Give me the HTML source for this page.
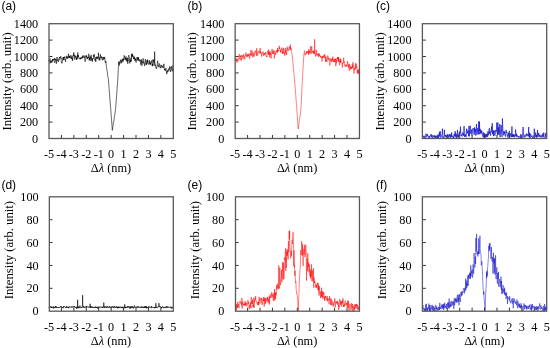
<!DOCTYPE html>
<html><head><meta charset="utf-8"><style>
html,body{margin:0;padding:0;background:#fff;}
svg{display:block;filter:blur(0.3px);}
.t{font-family:"Liberation Serif",serif;font-size:12.2px;fill:#000;}
.tt{font-family:"Liberation Serif",serif;font-size:12.7px;fill:#000;}
.tx{font-family:"Liberation Serif",serif;font-size:12.35px;fill:#000;}
.s{font-family:"Liberation Sans",sans-serif;font-size:12px;fill:#000;}
</style></head><body>
<svg width="550" height="348" viewBox="0 0 550 348">
<rect width="550" height="348" fill="#fff"/>
<polyline points="49,59.78 49.18,61.21 49.36,60.48 49.53,60.86 49.71,60.12 49.89,58.26 50.07,63.29 50.24,62.18 50.42,60.79 50.6,61.01 50.78,62.87 50.96,62.18 51.13,61.03 51.31,60.49 51.49,61.69 51.67,62.33 51.85,61.54 52.02,62.21 52.2,61.17 52.38,59.77 52.56,59.26 52.73,61.33 52.91,59.56 53.09,60.35 53.27,60.54 53.45,58.91 53.62,59.29 53.8,59.65 53.98,59.88 54.16,60.01 54.33,59.67 54.51,57.99 54.69,60.11 54.87,62.8 55.05,61.02 55.22,60.96 55.4,60.38 55.58,58.72 55.76,58.8 55.94,59.78 56.11,59.29 56.29,63.46 56.47,63.7 56.65,60.14 56.82,59.26 57,57.08 57.18,58.23 57.36,59.3 57.54,60.56 57.71,59.96 57.89,60.54 58.07,59.76 58.25,61.92 58.42,61.91 58.6,61.2 58.78,60.47 58.96,58.68 59.14,59.6 59.31,59.51 59.49,56.94 59.67,57.78 59.85,57.22 60.03,57.84 60.2,57.56 60.38,57.06 60.56,57.17 60.74,56.31 60.91,58.65 61.09,57.9 61.27,61.45 61.45,61.54 61.63,63.2 61.8,62.62 61.98,62.95 62.16,63.1 62.34,61.29 62.51,61.28 62.69,59.56 62.87,58.69 63.05,57.2 63.23,59.99 63.4,59.26 63.58,57.12 63.76,59.85 63.94,60.17 64.12,59.08 64.29,57.09 64.47,57.53 64.65,56.97 64.83,56.45 65,58.9 65.18,59.5 65.36,59.21 65.54,61.85 65.72,59.79 65.89,58.99 66.07,58.36 66.25,58.4 66.43,57.11 66.6,57.65 66.78,55.81 66.96,57.54 67.14,56.78 67.32,58.6 67.49,58.61 67.67,57.71 67.85,58.4 68.03,57.36 68.21,56.25 68.38,56.67 68.56,53.83 68.74,56.61 68.92,57.87 69.09,56.54 69.27,56.32 69.45,58.04 69.63,56.04 69.81,57.86 69.98,57.7 70.16,57.75 70.34,57.45 70.52,56.37 70.69,55.28 70.87,55.01 71.05,58.49 71.23,57.22 71.41,58.69 71.58,58.16 71.76,58.61 71.94,55.93 72.12,56.43 72.3,59.74 72.47,58.54 72.65,60.83 72.83,58.24 73.01,56.96 73.18,55.75 73.36,54.5 73.54,55.92 73.72,52.38 73.9,55 74.07,56.02 74.25,54.88 74.43,56.41 74.61,57.46 74.78,59.41 74.96,55.82 75.14,57.46 75.32,57.54 75.5,56.55 75.67,55.74 75.85,56.27 76.03,56.41 76.21,56.68 76.39,60.01 76.56,58.48 76.74,59.72 76.92,57.72 77.1,56.28 77.27,58.73 77.45,55.05 77.63,55.95 77.81,52.48 77.99,56.92 78.16,55.34 78.34,56.45 78.52,55.64 78.7,57.96 78.87,58.5 79.05,58.68 79.23,58.57 79.41,58.18 79.59,57.81 79.76,57.83 79.94,58.71 80.12,59.29 80.3,58.03 80.48,59.12 80.65,57.98 80.83,57.51 81.01,58.47 81.19,57.71 81.36,58.27 81.54,58.56 81.72,57.67 81.9,58 82.08,57.08 82.25,56.49 82.43,56.07 82.61,58.36 82.79,56.57 82.96,55.5 83.14,55.31 83.32,56.77 83.5,56.75 83.68,57.12 83.85,58 84.03,57.53 84.21,57.45 84.39,56.04 84.57,55.82 84.74,55.62 84.92,58.99 85.1,61.67 85.28,58.55 85.45,57.95 85.63,57.74 85.81,55.81 85.99,56.09 86.17,56.61 86.34,57.08 86.52,55.26 86.7,57.56 86.88,56.62 87.05,58.04 87.23,59.22 87.41,57.54 87.59,57.67 87.77,58.61 87.94,57.18 88.12,57.14 88.3,57.02 88.48,57.6 88.66,54.81 88.83,53.77 89.01,55.27 89.19,60.35 89.37,60.15 89.54,57.99 89.72,59.16 89.9,56.84 90.08,57.67 90.26,60.91 90.43,56.79 90.61,56.59 90.79,57.39 90.97,56.38 91.14,54.97 91.32,58.46 91.5,57.61 91.68,59.71 91.86,59.37 92.03,60.84 92.21,58.55 92.39,61.68 92.57,60.58 92.75,58.4 92.92,58.25 93.1,58.92 93.28,58.38 93.46,56.59 93.63,55.03 93.81,56.59 93.99,57.23 94.17,54.17 94.35,55.12 94.52,56.45 94.7,56.84 94.88,57.03 95.06,60.71 95.23,58.53 95.41,59.79 95.59,59.54 95.77,61.89 95.95,60.71 96.12,56.9 96.3,58.64 96.48,57.34 96.66,57.56 96.84,57.64 97.01,56.68 97.19,56.49 97.37,59.03 97.55,57.79 97.72,57.37 97.9,57.76 98.08,57.42 98.26,58.39 98.44,52.67 98.61,55.67 98.79,57.09 98.97,58.77 99.15,60.44 99.32,59.61 99.5,57.68 99.68,58.54 99.86,60.2 100.04,58.72 100.21,56.51 100.39,54.21 100.57,55.76 100.75,57.94 100.93,57.69 101.1,57.23 101.28,56.66 101.46,56.68 101.64,58.36 101.81,56.76 101.99,57.45 102.17,59.05 102.35,59.8 102.53,60.23 102.7,58.38 102.88,58.51 103.06,58.33 103.24,56.93 103.41,57.38 103.59,57.04 103.77,59.88 103.95,58.67 104.13,57.31 104.3,58.51 104.48,57.19 104.66,56.92 104.84,59.12 105.02,60.65 105.19,61.95 105.37,62.92 105.55,62.7 105.73,61.37 105.9,60.87 106.08,64.18 106.26,65.06 106.44,66.45 106.62,67.25 106.79,69.1 106.97,70.04 107.15,71.69 107.33,72.09 107.5,73.99 107.68,75.57 107.86,76.27 108.04,77.49 108.22,78.2 108.39,79.97 108.57,82.02 108.75,84.12 108.93,86.13 109.11,88.79 109.28,90.77 109.46,93.15 109.64,95.61 109.82,97.77 109.99,100.03 110.17,102.52 110.35,104.25 110.53,107.14 110.71,108.77 110.88,111.14 111.06,113.75 111.24,116.27 111.42,118.49 111.59,120.68 111.77,122.97 111.95,125.43 112.13,127.62 112.31,130.35 112.48,129.03 112.66,128.35 112.84,126.65 113.02,125.67 113.19,124.68 113.37,123.17 113.55,122.16 113.73,121.89 113.91,120.06 114.08,119.3 114.26,117.55 114.44,116.08 114.62,115.69 114.8,114.42 114.97,113.37 115.15,112.09 115.33,110.89 115.51,109.56 115.68,107.74 115.86,104.74 116.04,102.97 116.22,100.3 116.4,97.7 116.57,95.43 116.75,93.46 116.93,91.02 117.11,88.59 117.28,86.11 117.46,83.43 117.64,81.65 117.82,78.44 118,75.15 118.17,71.91 118.35,68.68 118.53,65.16 118.71,62.16 118.89,63.68 119.06,61.53 119.24,65.13 119.42,65.46 119.6,64.58 119.77,62.79 119.95,62.04 120.13,61.07 120.31,61.28 120.49,59.81 120.66,60.2 120.84,59.85 121.02,63.35 121.2,60.99 121.37,60.95 121.55,60.84 121.73,60.77 121.91,62.6 122.09,59.75 122.26,59.23 122.44,60.6 122.62,59.66 122.8,58.66 122.98,61.41 123.15,61.09 123.33,61.34 123.51,60.4 123.69,58.5 123.86,59.96 124.04,57.87 124.22,55.38 124.4,57 124.58,56.86 124.75,57.88 124.93,58.15 125.11,59.41 125.29,59.58 125.46,57.95 125.64,59.24 125.82,57.62 126,56.42 126.18,60.67 126.35,60.87 126.53,58.41 126.71,59.06 126.89,59.87 127.07,61.73 127.24,60.37 127.42,57.73 127.6,59.04 127.78,63.79 127.95,59.71 128.13,60.68 128.31,59.88 128.49,58.87 128.67,57.44 128.84,55.08 129.02,56.5 129.2,56.85 129.38,57.63 129.55,60.24 129.73,63.3 129.91,60.91 130.09,60.59 130.27,59.95 130.44,62.01 130.62,59.67 130.8,58.47 130.98,57.69 131.16,58.32 131.33,61.53 131.51,53.9 131.69,56.93 131.87,56.13 132.04,55.82 132.22,53.62 132.4,56.33 132.58,54.82 132.76,56.81 132.93,57.03 133.11,57.56 133.29,57.86 133.47,58.38 133.64,59.03 133.82,55.8 134,59.01 134.18,57.82 134.36,59.07 134.53,58.01 134.71,57.45 134.89,61.01 135.07,60.53 135.25,58.91 135.42,60.22 135.6,58.64 135.78,60.5 135.96,62.12 136.13,62.49 136.31,61.12 136.49,60.06 136.67,60.06 136.85,59.31 137.02,57.15 137.2,58.75 137.38,60.39 137.56,59.37 137.73,59.55 137.91,57.27 138.09,59.21 138.27,57.04 138.45,59.46 138.62,60.78 138.8,59.03 138.98,59.32 139.16,59.74 139.34,59.5 139.51,59.68 139.69,59.73 139.87,61.51 140.05,60.46 140.22,59.78 140.4,60.84 140.58,63.23 140.76,64.63 140.94,63.62 141.11,62.8 141.29,63.06 141.47,59.51 141.65,62.13 141.82,65.82 142,64.57 142.18,64.47 142.36,61.49 142.54,61.88 142.71,62.03 142.89,62.6 143.07,58.34 143.25,59.27 143.43,61.57 143.6,63.33 143.78,62.5 143.96,62.4 144.14,62.77 144.31,63.77 144.49,66.1 144.67,65.71 144.85,64.27 145.03,61.95 145.2,59.75 145.38,59.2 145.56,60.44 145.74,63.1 145.91,64.5 146.09,64.8 146.27,64.75 146.45,63.17 146.63,64.69 146.8,62.05 146.98,60.39 147.16,63.35 147.34,59.53 147.52,61.73 147.69,61.98 147.87,60.44 148.05,63.51 148.23,64.04 148.4,64.05 148.58,63.73 148.76,64.48 148.94,64.38 149.12,63.76 149.29,61.77 149.47,60.33 149.65,63.61 149.83,64.06 150,62.41 150.18,63.65 150.36,64.85 150.54,62.99 150.72,64.23 150.89,61.8 151.07,62.18 151.25,61.36 151.43,60.54 151.61,61.67 151.78,62.85 151.96,62.4 152.14,66.14 152.32,66.08 152.49,63.86 152.67,65.89 152.85,63.39 153.03,59.4 153.21,62.02 153.38,59.82 153.56,60.57 153.74,59.94 153.92,65.26 154.09,65.28 154.27,65.5 154.45,63.87 154.63,51.58 154.81,61.64 154.98,63.61 155.16,63.92 155.34,66.11 155.52,64.99 155.7,65.85 155.87,67.54 156.05,67.07 156.23,67.9 156.41,69.07 156.58,68.43 156.76,68.17 156.94,66.47 157.12,66.35 157.3,63.79 157.47,62.1 157.65,60.81 157.83,62.17 158.01,64.47 158.18,66.07 158.36,66.54 158.54,65.45 158.72,65.88 158.9,67.28 159.07,66.56 159.25,63.86 159.43,63.52 159.61,64.62 159.79,64.43 159.96,64.89 160.14,65.89 160.32,68.29 160.5,67.52 160.67,67.71 160.85,67.36 161.03,65.11 161.21,65.27 161.39,65.2 161.56,66 161.74,65.77 161.92,67.59 162.1,66.51 162.27,65.68 162.45,66.61 162.63,66.87 162.81,66.58 162.99,67.23 163.16,68.03 163.34,67.4 163.52,67.28 163.7,67.45 163.88,63.82 164.05,66.75 164.23,67.64 164.41,69.86 164.59,69.2 164.76,70.17 164.94,69.2 165.12,69.37 165.3,70.71 165.48,69.19 165.65,68.78 165.83,68.41 166.01,68.06 166.19,69.55 166.36,71.36 166.54,72.12 166.72,74.11 166.9,73.36 167.08,70.77 167.25,71.17 167.43,72.19 167.61,70.8 167.79,71.17 167.97,70.24 168.14,69.68 168.32,69.43 168.5,69.97 168.68,70.75 168.85,71.39 169.03,68.72 169.21,67.87 169.39,69.55 169.57,68.7 169.74,68.07 169.92,66.37 170.1,67.55 170.28,67.29 170.45,69.67 170.63,71.81 170.81,70.79 170.99,70.79 171.17,70.67 171.34,70.02 171.52,68.29 171.7,66.2 171.88,68.46 172.06,68.63 172.23,69.18 172.41,70.16 172.59,71.32 172.77,70.95 172.94,64.9 173.12,65.04 173.3,65.13" fill="none" stroke="#000000" stroke-width="0.6" stroke-linejoin="round"/>
<path d="M49 122.1h3.5M49 105.7h3.5M49 89.3h3.5M49 72.9h3.5M49 56.5h3.5M49 40.1h3.5M61.43 138.5v-3.5M73.86 138.5v-3.5M86.29 138.5v-3.5M98.72 138.5v-3.5M111.15 138.5v-3.5M123.58 138.5v-3.5M136.01 138.5v-3.5M148.44 138.5v-3.5M160.87 138.5v-3.5" stroke="#333" stroke-width="1" fill="none"/>
<rect x="49" y="23.7" width="124.3" height="114.8" fill="none" stroke="#595959" stroke-width="1.3"/>
<text x="38.2" y="142.6" class="t" text-anchor="end">0</text>
<text x="38.2" y="126.2" class="t" text-anchor="end">200</text>
<text x="38.2" y="109.8" class="t" text-anchor="end">400</text>
<text x="38.2" y="93.4" class="t" text-anchor="end">600</text>
<text x="38.2" y="77" class="t" text-anchor="end">800</text>
<text x="38.2" y="60.6" class="t" text-anchor="end">1000</text>
<text x="38.2" y="44.2" class="t" text-anchor="end">1200</text>
<text x="38.2" y="27.8" class="t" text-anchor="end">1400</text>
<text x="49" y="157.9" class="t" text-anchor="middle">-5</text>
<text x="61.43" y="157.9" class="t" text-anchor="middle">-4</text>
<text x="73.86" y="157.9" class="t" text-anchor="middle">-3</text>
<text x="86.29" y="157.9" class="t" text-anchor="middle">-2</text>
<text x="98.72" y="157.9" class="t" text-anchor="middle">-1</text>
<text x="111.15" y="157.9" class="t" text-anchor="middle">0</text>
<text x="123.58" y="157.9" class="t" text-anchor="middle">1</text>
<text x="136.01" y="157.9" class="t" text-anchor="middle">2</text>
<text x="148.44" y="157.9" class="t" text-anchor="middle">3</text>
<text x="160.87" y="157.9" class="t" text-anchor="middle">4</text>
<text x="173.3" y="157.9" class="t" text-anchor="middle">5</text>
<text x="110.95" y="171.8" class="tx" text-anchor="middle">&#916;<tspan font-style="italic">&#955;</tspan> (nm)</text>
<text transform="translate(11.4 81.4) rotate(-90)" class="tt" text-anchor="middle">Intensity (arb. unit)</text>
<text x="1.4" y="9.6" class="s">(a)</text>
<polyline points="235.15,57.46 235.33,59.94 235.51,59.8 235.68,59.83 235.86,60.55 236.04,59.9 236.22,61.17 236.39,60.16 236.57,60.44 236.75,58.19 236.93,62.57 237.11,61.42 237.28,59.59 237.46,59.45 237.64,61.09 237.82,61.31 238,60.68 238.17,61.06 238.35,59.99 238.53,58.3 238.71,57.78 238.88,57.17 239.06,56.14 239.24,54.06 239.42,57.29 239.6,58.64 239.77,58.24 239.95,58.43 240.13,60.04 240.31,55.76 240.48,56.96 240.66,55.6 240.84,55.59 241.02,57.47 241.2,58.4 241.37,60.67 241.55,57.54 241.73,55.05 241.91,55.32 242.09,55.92 242.26,55.72 242.44,56.26 242.62,56.83 242.8,55.83 242.97,59.22 243.15,57.61 243.33,55.96 243.51,54.75 243.69,53.95 243.86,55.65 244.04,57.11 244.22,56.63 244.4,57.12 244.57,59.32 244.75,57.22 244.93,56.87 245.11,57.4 245.29,55.05 245.46,55.66 245.64,55.24 245.82,52.67 246,52.53 246.18,54.37 246.35,54.04 246.53,56.52 246.71,56.52 246.89,56.82 247.06,55.18 247.24,56.43 247.42,56.49 247.6,54.53 247.78,54.48 247.95,56.6 248.13,54.03 248.31,56.12 248.49,55.27 248.66,55.41 248.84,55.45 249.02,53.6 249.2,55.12 249.38,56.04 249.55,58.8 249.73,58.51 249.91,56.65 250.09,54.75 250.27,53.51 250.44,55.3 250.62,55.12 250.8,50.24 250.98,49.86 251.15,52.49 251.33,54.34 251.51,53.92 251.69,55.94 251.87,52.26 252.04,51.48 252.22,50.65 252.4,51.68 252.58,55.58 252.75,57.4 252.93,57.33 253.11,55.12 253.29,55.44 253.47,53.76 253.64,54.63 253.82,54.08 254,52.62 254.18,56.65 254.36,54.71 254.53,53.88 254.71,52.08 254.89,51.97 255.07,52.14 255.24,51.29 255.42,50.72 255.6,51.75 255.78,52.64 255.96,51.17 256.13,52.25 256.31,55.78 256.49,55.9 256.67,48.23 256.84,50.82 257.02,51.86 257.2,52.88 257.38,54.2 257.56,54.13 257.73,55.72 257.91,53.95 258.09,52.5 258.27,51.89 258.45,51.38 258.62,51.56 258.8,52.12 258.98,50.77 259.16,51.96 259.33,53.38 259.51,52.98 259.69,52.76 259.87,51.95 260.05,48.56 260.22,47.95 260.4,53.31 260.58,51.7 260.76,51.84 260.93,52.24 261.11,53.84 261.29,53.93 261.47,56.69 261.65,56.56 261.82,52.8 262,52.39 262.18,53.71 262.36,52.4 262.54,52.37 262.71,52.34 262.89,52.24 263.07,51.47 263.25,51.62 263.42,55.78 263.6,54.08 263.78,54.71 263.96,55.16 264.14,53.39 264.31,53.16 264.49,54.79 264.67,53.53 264.85,54.35 265.02,53.44 265.2,53.11 265.38,53.18 265.56,53.83 265.74,52.17 265.91,55.74 266.09,55.46 266.27,55.75 266.45,56.8 266.63,56.81 266.8,56.03 266.98,56.94 267.16,54.45 267.34,52.47 267.51,51.34 267.69,51.41 267.87,51.63 268.05,50.67 268.23,53.39 268.4,54.58 268.58,49.6 268.76,54.91 268.94,52.67 269.11,54.42 269.29,52.12 269.47,51.95 269.65,57.35 269.83,56.34 270,52.31 270.18,51.19 270.36,54.18 270.54,54.66 270.72,53.31 270.89,57.61 271.07,57.39 271.25,58.34 271.43,55.64 271.6,54.99 271.78,50.46 271.96,50.51 272.14,48.91 272.32,51.35 272.49,52.44 272.67,54.02 272.85,50.99 273.03,51.55 273.2,51.88 273.38,53.16 273.56,53.84 273.74,51.28 273.92,50 274.09,50.53 274.27,58.43 274.45,55.86 274.63,55.21 274.81,53.93 274.98,51.46 275.16,53.26 275.34,53.64 275.52,55.03 275.69,53.72 275.87,53.63 276.05,52.88 276.23,51.71 276.41,50.5 276.58,51.97 276.76,52.33 276.94,51.4 277.12,51.2 277.29,49.85 277.47,52.85 277.65,47.94 277.83,51.67 278.01,51.34 278.18,51.09 278.36,50.34 278.54,51.14 278.72,50.65 278.9,48.77 279.07,45.86 279.25,45.85 279.43,48.73 279.61,48.23 279.78,47.53 279.96,49.1 280.14,49.33 280.32,51.93 280.5,52.52 280.67,50.47 280.85,51.96 281.03,51.05 281.21,49.42 281.38,49.82 281.56,48.64 281.74,48.13 281.92,47.67 282.1,51.22 282.27,53.56 282.45,51.31 282.63,53.97 282.81,52.23 282.99,49.12 283.16,49.97 283.34,47.78 283.52,48.93 283.7,53.12 283.87,51.48 284.05,52.6 284.23,54.14 284.41,53.01 284.59,55.67 284.76,55.72 284.94,54.15 285.12,47.91 285.3,49.04 285.47,51.17 285.65,53.1 285.83,50.96 286.01,49.35 286.19,54.05 286.36,54.56 286.54,53.29 286.72,54.67 286.9,52.34 287.08,46.69 287.25,48.53 287.43,48 287.61,50.17 287.79,50.25 287.96,50.26 288.14,50.84 288.32,49.74 288.5,49.48 288.68,49.25 288.85,50.34 289.03,47 289.21,47.37 289.39,47.47 289.56,46.51 289.74,48.47 289.92,49.23 290.1,48.05 290.28,44.49 290.45,44.48 290.63,50.16 290.81,47.56 290.99,47.68 291.17,48.49 291.34,49.98 291.52,51.22 291.7,52.13 291.88,53.1 292.05,54.44 292.23,55.88 292.41,57.33 292.59,59.76 292.77,61.44 292.94,62.96 293.12,65.28 293.3,67.17 293.48,69.07 293.65,70.54 293.83,72.34 294.01,74.34 294.19,76.13 294.37,77.66 294.54,79.6 294.72,82.36 294.9,84.27 295.08,86.5 295.26,88.6 295.43,91.09 295.61,93.45 295.79,95.65 295.97,98.23 296.14,100.05 296.32,102.45 296.5,104.44 296.68,107.06 296.86,109.17 297.03,111.87 297.21,114.67 297.39,117.02 297.57,120.09 297.74,122.64 297.92,125.81 298.1,128.29 298.28,129.06 298.46,127.49 298.63,126.24 298.81,124.71 298.99,123.54 299.17,122.37 299.34,120.85 299.52,119.75 299.7,118.4 299.88,117.08 300.06,116.02 300.23,114.81 300.41,113.4 300.59,112.32 300.77,110.85 300.95,108.89 301.12,105.38 301.3,102.12 301.48,98.77 301.66,94.9 301.83,91.35 302.01,87.48 302.19,84.27 302.37,80.66 302.55,77.29 302.72,74.53 302.9,71.39 303.08,67.87 303.26,64.87 303.43,62.02 303.61,59.05 303.79,56.29 303.97,53.91 304.15,53.29 304.32,51.73 304.5,50.71 304.68,51.84 304.86,53.79 305.04,54.74 305.21,55.37 305.39,54.13 305.57,53.89 305.75,53.37 305.92,53.13 306.1,54.25 306.28,53.21 306.46,52.74 306.64,51.28 306.81,53.66 306.99,53.67 307.17,51.78 307.35,51.46 307.52,51.3 307.7,51.58 307.88,52.91 308.06,50.97 308.24,52.83 308.41,52.3 308.59,55.1 308.77,49.22 308.95,52.35 309.13,52.11 309.3,52.6 309.48,50.79 309.66,52.03 309.84,51.6 310.01,52.64 310.19,53.85 310.37,46.41 310.55,46.39 310.73,48.71 310.9,52.19 311.08,53.58 311.26,53.03 311.44,53.2 311.61,46.68 311.79,46.25 311.97,49.09 312.15,51.34 312.33,50.94 312.5,51.57 312.68,52.81 312.86,51.62 313.04,51.26 313.22,51.62 313.39,50.89 313.57,53.84 313.75,50.74 313.93,51.96 314.1,53.38 314.28,54.04 314.46,52.36 314.64,39.28 314.82,54.01 314.99,53.54 315.17,53.63 315.35,54.54 315.53,56.6 315.7,55.96 315.88,52.21 316.06,49.64 316.24,51.7 316.42,51.5 316.59,51 316.77,55.12 316.95,53.53 317.13,55.28 317.31,55.7 317.48,54.2 317.66,54.39 317.84,55.01 318.02,54.6 318.19,55.27 318.37,56.91 318.55,55.43 318.73,53.25 318.91,54.47 319.08,53.65 319.26,56.07 319.44,54.56 319.62,54.43 319.79,55.79 319.97,55.65 320.15,57.2 320.33,56.48 320.51,56.23 320.68,56.88 320.86,55.79 321.04,57.64 321.22,57.58 321.4,57.92 321.57,56.94 321.75,57.9 321.93,61.49 322.11,59.47 322.28,57.72 322.46,56.19 322.64,57.69 322.82,57.63 323,56.13 323.17,57.48 323.35,56.3 323.53,56.15 323.71,55.37 323.88,57.21 324.06,56.75 324.24,58.14 324.42,54.87 324.6,55.48 324.77,54.13 324.95,57.28 325.13,56.98 325.31,56.52 325.49,58.12 325.66,62.02 325.84,57.26 326.02,56.63 326.2,59.64 326.37,61.17 326.55,59.48 326.73,60.3 326.91,61.79 327.09,61.65 327.26,59.72 327.44,57.89 327.62,58.04 327.8,55.55 327.97,55.99 328.15,58.93 328.33,57.82 328.51,59.89 328.69,60.2 328.86,59.77 329.04,59.27 329.22,58.26 329.4,58.94 329.58,61.18 329.75,65.41 329.93,63.91 330.11,62.67 330.29,60.76 330.46,59.63 330.64,58.43 330.82,59.87 331,61.34 331.18,59.92 331.35,59.59 331.53,60.23 331.71,58.87 331.89,60.34 332.06,62.24 332.24,60.61 332.42,58.32 332.6,60.37 332.78,57.8 332.95,56.65 333.13,58.28 333.31,60.92 333.49,60.94 333.67,61.7 333.84,60.07 334.02,62.1 334.2,60.22 334.38,59.9 334.55,60.18 334.73,58.65 334.91,62.13 335.09,59.01 335.27,59.61 335.44,58.78 335.62,62.91 335.8,66.18 335.98,63.68 336.15,59.85 336.33,59.69 336.51,63.14 336.69,60.9 336.87,59.89 337.04,58.15 337.22,59 337.4,57.28 337.58,58.71 337.76,57.69 337.93,60.51 338.11,60.08 338.29,56.95 338.47,58.06 338.64,61.93 338.82,57.41 339,61.49 339.18,59.82 339.36,61.91 339.53,64.99 339.71,65.33 339.89,64.44 340.07,61.52 340.24,62.07 340.42,58.73 340.6,63.08 340.78,59.32 340.96,61.42 341.13,61.75 341.31,61.98 341.49,62.14 341.67,61.66 341.85,62.06 342.02,62.66 342.2,67.51 342.38,67.12 342.56,63.17 342.73,63.66 342.91,63.69 343.09,62.35 343.27,62.39 343.45,61.91 343.62,57.78 343.8,58.65 343.98,62.96 344.16,61.36 344.33,64.21 344.51,63.98 344.69,65.17 344.87,66.45 345.05,66.38 345.22,65.75 345.4,65.22 345.58,66.55 345.76,65.16 345.94,65.49 346.11,64.39 346.29,64.87 346.47,65.77 346.65,65.61 346.82,65.31 347,66.74 347.18,65.58 347.36,61.11 347.54,62.92 347.71,62.46 347.89,63.47 348.07,65.18 348.25,64.56 348.42,67.67 348.6,64.8 348.78,65.06 348.96,66.43 349.14,69.37 349.31,70.75 349.49,65.78 349.67,63.75 349.85,65.35 350.03,65.68 350.2,65.36 350.38,69.43 350.56,69.07 350.74,66.41 350.91,67.29 351.09,68.74 351.27,67.82 351.45,68.81 351.63,66.89 351.8,66.75 351.98,68.49 352.16,66.21 352.34,64.42 352.51,67.8 352.69,67.98 352.87,62.16 353.05,65.79 353.23,66.05 353.4,65.22 353.58,68.59 353.76,68.95 353.94,73.53 354.12,70.84 354.29,68.23 354.47,69.33 354.65,69.02 354.83,69.99 355,66.63 355.18,67.3 355.36,68.89 355.54,66.57 355.72,62.88 355.89,66.22 356.07,64.08 356.25,68.4 356.43,67.48 356.6,66.3 356.78,66.47 356.96,66.03 357.14,73.46 357.32,71.91 357.49,70.19 357.67,69.68 357.85,72.84 358.03,71.21 358.21,70.28 358.38,74.04 358.56,74.02 358.74,71.72 358.92,69.01 359.09,72.6 359.27,71.67 359.45,72.43" fill="none" stroke="#ff0000" stroke-width="0.5" stroke-linejoin="round"/>
<path d="M235.15 122.1h3.5M235.15 105.7h3.5M235.15 89.3h3.5M235.15 72.9h3.5M235.15 56.5h3.5M235.15 40.1h3.5M247.58 138.5v-3.5M260.01 138.5v-3.5M272.44 138.5v-3.5M284.87 138.5v-3.5M297.3 138.5v-3.5M309.73 138.5v-3.5M322.16 138.5v-3.5M334.59 138.5v-3.5M347.02 138.5v-3.5" stroke="#333" stroke-width="1" fill="none"/>
<rect x="235.15" y="23.7" width="124.3" height="114.8" fill="none" stroke="#595959" stroke-width="1.3"/>
<text x="224.35" y="142.6" class="t" text-anchor="end">0</text>
<text x="224.35" y="126.2" class="t" text-anchor="end">200</text>
<text x="224.35" y="109.8" class="t" text-anchor="end">400</text>
<text x="224.35" y="93.4" class="t" text-anchor="end">600</text>
<text x="224.35" y="77" class="t" text-anchor="end">800</text>
<text x="224.35" y="60.6" class="t" text-anchor="end">1000</text>
<text x="224.35" y="44.2" class="t" text-anchor="end">1200</text>
<text x="224.35" y="27.8" class="t" text-anchor="end">1400</text>
<text x="235.15" y="157.9" class="t" text-anchor="middle">-5</text>
<text x="247.58" y="157.9" class="t" text-anchor="middle">-4</text>
<text x="260.01" y="157.9" class="t" text-anchor="middle">-3</text>
<text x="272.44" y="157.9" class="t" text-anchor="middle">-2</text>
<text x="284.87" y="157.9" class="t" text-anchor="middle">-1</text>
<text x="297.3" y="157.9" class="t" text-anchor="middle">0</text>
<text x="309.73" y="157.9" class="t" text-anchor="middle">1</text>
<text x="322.16" y="157.9" class="t" text-anchor="middle">2</text>
<text x="334.59" y="157.9" class="t" text-anchor="middle">3</text>
<text x="347.02" y="157.9" class="t" text-anchor="middle">4</text>
<text x="359.45" y="157.9" class="t" text-anchor="middle">5</text>
<text x="297.1" y="171.8" class="tx" text-anchor="middle">&#916;<tspan font-style="italic">&#955;</tspan> (nm)</text>
<text transform="translate(196.15 81.4) rotate(-90)" class="tt" text-anchor="middle">Intensity (arb. unit)</text>
<text x="187.55" y="9.6" class="s">(b)</text>
<polyline points="422.4,136.16 422.73,136.54 423.06,135.99 423.38,135.9 423.71,137.67 424.04,137.51 424.37,135.83 424.7,136.07 425.02,138 425.35,137.57 425.68,137.95 426.01,133.65 426.34,136.58 426.66,136.54 426.99,136.49 427.32,134.03 427.65,135.95 427.98,135.91 428.3,135.8 428.63,137.57 428.96,137.66 429.29,136.03 429.62,137.49 429.94,137.66 430.27,135.95 430.6,134.95 430.93,135.42 431.26,134.19 431.58,137.3 431.91,134.98 432.24,135.06 432.57,137.95 432.89,137.82 433.22,137.36 433.55,135.55 433.88,136.51 434.21,136.41 434.53,136.03 434.86,136.96 435.19,135.95 435.52,137.9 435.85,137.33 436.17,135.76 436.5,137.25 436.83,137.81 437.16,135.46 437.49,138.1 437.81,136.43 438.14,134.32 438.47,138.18 438.8,135.61 439.13,135.73 439.45,132.22 439.78,136.6 440.11,131.17 440.44,133.91 440.77,137.61 441.09,136.95 441.42,135.89 441.75,135.36 442.08,134.08 442.41,128.66 442.73,137.49 443.06,136.37 443.39,137.45 443.72,136.97 444.05,137.72 444.37,129.76 444.7,134.99 445.03,136.47 445.36,134.93 445.69,136.36 446.01,137.22 446.34,135.35 446.67,137.8 447,137.36 447.33,134.34 447.65,136.08 447.98,134.71 448.31,135.76 448.64,137.83 448.97,136.97 449.29,134.09 449.62,136.52 449.95,134.67 450.28,136.23 450.61,137.74 450.93,134.44 451.26,136.8 451.59,132.55 451.92,136.56 452.25,137.13 452.57,136.9 452.9,135.68 453.23,138.12 453.56,136.75 453.88,138.25 454.21,133.86 454.54,135.84 454.87,133.77 455.2,131.24 455.52,136.83 455.85,133.4 456.18,137.03 456.51,138.07 456.84,134.47 457.16,136.86 457.49,129.94 457.82,133.69 458.15,137.95 458.48,135.27 458.8,136.38 459.13,133.19 459.46,135.64 459.79,131.5 460.12,133.25 460.44,126.62 460.77,133.45 461.1,135.87 461.43,134.62 461.76,136 462.08,136.45 462.41,133.58 462.74,132.46 463.07,134.7 463.4,133.64 463.72,135.89 464.05,126.2 464.38,134.67 464.71,137 465.04,134.79 465.36,135.84 465.69,134.34 466.02,137.15 466.35,131.93 466.68,128.67 467,133.51 467.33,131.64 467.66,132.81 467.99,130.49 468.32,132.81 468.64,136.26 468.97,125.88 469.3,136.3 469.63,130.79 469.96,129.85 470.28,125.79 470.61,133.8 470.94,133.44 471.27,132.11 471.6,129.57 471.92,135.53 472.25,132.86 472.58,128.92 472.91,128.44 473.24,128.04 473.56,129.01 473.89,132.66 474.22,134.68 474.55,127.4 474.87,132.18 475.2,128.9 475.53,134.37 475.86,135.67 476.19,129.85 476.51,124.04 476.84,132.58 477.17,134.47 477.5,128.39 477.83,128.52 478.15,131.86 478.48,134.4 478.81,121.39 479.14,130.97 479.47,121.69 479.79,134.31 480.12,128.87 480.45,133.25 480.78,132.17 481.11,130.38 481.43,133.56 481.76,130.69 482.09,132.66 482.42,135.43 482.75,136.64 483.07,136.33 483.4,132.43 483.73,136.87 484.06,137.88 484.39,133.46 484.71,133.01 485.04,137.5 485.37,134.41 485.7,136.74 486.03,137.24 486.35,134.2 486.68,136.98 487.01,133.61 487.34,135.02 487.67,136.7 487.99,131.08 488.32,135.36 488.65,134.18 488.98,131.05 489.31,128.2 489.63,133.69 489.96,131.81 490.29,134.23 490.62,135.57 490.95,130.46 491.27,129.53 491.6,126.62 491.93,132.3 492.26,123.18 492.59,134.27 492.91,133.74 493.24,130.94 493.57,136.14 493.9,130.19 494.23,132.25 494.55,131.63 494.88,135.67 495.21,132.99 495.54,130.43 495.86,129.87 496.19,131.73 496.52,129.51 496.85,122.53 497.18,132.61 497.5,135.28 497.83,122.55 498.16,134.5 498.49,127.5 498.82,130.82 499.14,134.53 499.47,129.53 499.8,124.06 500.13,137.04 500.46,130.82 500.78,131.42 501.11,125.19 501.44,128.69 501.77,134.64 502.1,136.86 502.42,118.41 502.75,128.29 503.08,133.06 503.41,132.8 503.74,135.32 504.06,130.93 504.39,133.51 504.72,131.94 505.05,135.21 505.38,136.49 505.7,136.53 506.03,129.9 506.36,132.2 506.69,133.01 507.02,132.29 507.34,135.97 507.67,135.68 508,137.59 508.33,134.23 508.66,132.88 508.98,136.47 509.31,130.91 509.64,137.29 509.97,136.17 510.3,135.7 510.62,133.47 510.95,133.11 511.28,137.21 511.61,134.21 511.94,126.54 512.26,137.02 512.59,134.59 512.92,136.53 513.25,134.38 513.58,136.64 513.9,134.37 514.23,137.26 514.56,135.84 514.89,134.93 515.22,136.13 515.54,129.48 515.87,132.3 516.2,136.78 516.53,133.86 516.85,136.61 517.18,135.36 517.51,135.63 517.84,136.73 518.17,136.15 518.49,137.75 518.82,136.59 519.15,136.43 519.48,136.17 519.81,137.33 520.13,137.2 520.46,138.17 520.79,134.08 521.12,137.18 521.45,137.58 521.77,138.25 522.1,137.16 522.43,134.4 522.76,132.27 523.09,127.02 523.41,132.51 523.74,137.17 524.07,137.64 524.4,136.39 524.73,136.57 525.05,134.51 525.38,136.64 525.71,136.68 526.04,136.27 526.37,135.3 526.69,133.51 527.02,136.17 527.35,135.19 527.68,134.42 528.01,135.09 528.33,136.11 528.66,127.02 528.99,137.06 529.32,137.29 529.65,132.65 529.97,138.04 530.3,134.07 530.63,133.89 530.96,135.52 531.29,137.05 531.61,136.2 531.94,135.53 532.27,136.19 532.6,138.05 532.93,137.38 533.25,136.74 533.58,137.46 533.91,135.82 534.24,128.66 534.57,132.12 534.89,136.91 535.22,136.64 535.55,132.64 535.88,134.64 536.21,137.57 536.53,134.99 536.86,137.47 537.19,135.58 537.52,129.99 537.84,136.71 538.17,134.48 538.5,135.24 538.83,132.93 539.16,137.05 539.48,136.19 539.81,135.1 540.14,136.8 540.47,137.12 540.8,135.83 541.12,134.83 541.45,135.3 541.78,137.39 542.11,135.94 542.44,136.17 542.76,133.48 543.09,137.28 543.42,136.86 543.75,132.6 544.08,136.8 544.4,137.51 544.73,136.98 545.06,137.05 545.39,137.07 545.72,133 546.04,137.3 546.37,137.95 546.7,133.69" fill="none" stroke="#1010c8" stroke-width="0.7" stroke-linejoin="round"/>
<path d="M422.4 122.1h3.5M422.4 105.7h3.5M422.4 89.3h3.5M422.4 72.9h3.5M422.4 56.5h3.5M422.4 40.1h3.5M434.83 138.5v-3.5M447.26 138.5v-3.5M459.69 138.5v-3.5M472.12 138.5v-3.5M484.55 138.5v-3.5M496.98 138.5v-3.5M509.41 138.5v-3.5M521.84 138.5v-3.5M534.27 138.5v-3.5" stroke="#333" stroke-width="1" fill="none"/>
<rect x="422.4" y="23.7" width="124.3" height="114.8" fill="none" stroke="#595959" stroke-width="1.3"/>
<text x="411.5" y="142.6" class="t" text-anchor="end">0</text>
<text x="411.5" y="126.2" class="t" text-anchor="end">200</text>
<text x="411.5" y="109.8" class="t" text-anchor="end">400</text>
<text x="411.5" y="93.4" class="t" text-anchor="end">600</text>
<text x="411.5" y="77" class="t" text-anchor="end">800</text>
<text x="411.5" y="60.6" class="t" text-anchor="end">1000</text>
<text x="411.5" y="44.2" class="t" text-anchor="end">1200</text>
<text x="411.5" y="27.8" class="t" text-anchor="end">1400</text>
<text x="422.4" y="157.9" class="t" text-anchor="middle">-5</text>
<text x="434.83" y="157.9" class="t" text-anchor="middle">-4</text>
<text x="447.26" y="157.9" class="t" text-anchor="middle">-3</text>
<text x="459.69" y="157.9" class="t" text-anchor="middle">-2</text>
<text x="472.12" y="157.9" class="t" text-anchor="middle">-1</text>
<text x="484.55" y="157.9" class="t" text-anchor="middle">0</text>
<text x="496.98" y="157.9" class="t" text-anchor="middle">1</text>
<text x="509.41" y="157.9" class="t" text-anchor="middle">2</text>
<text x="521.84" y="157.9" class="t" text-anchor="middle">3</text>
<text x="534.27" y="157.9" class="t" text-anchor="middle">4</text>
<text x="546.7" y="157.9" class="t" text-anchor="middle">5</text>
<text x="484.35" y="171.8" class="tx" text-anchor="middle">&#916;<tspan font-style="italic">&#955;</tspan> (nm)</text>
<text transform="translate(383.5 81.4) rotate(-90)" class="tt" text-anchor="middle">Intensity (arb. unit)</text>
<text x="375.9" y="9.6" class="s">(c)</text>
<polyline points="49,307.08 49.21,307.76 49.42,306.92 49.62,307.14 49.83,307.07 50.04,306.48 50.25,306.94 50.45,306.49 50.66,306.86 50.87,307.8 51.08,307.05 51.28,306.93 51.49,307.93 51.7,306.5 51.91,307.15 52.11,307 52.32,307.65 52.53,307.15 52.74,307.03 52.94,307.35 53.15,307.14 53.36,308.28 53.57,306.48 53.77,307.76 53.98,308.31 54.19,307.68 54.4,307.62 54.6,306.91 54.81,307.66 55.02,307.04 55.23,307.68 55.43,306.05 55.64,306.91 55.85,306.18 56.06,307.71 56.26,306.84 56.47,307.68 56.68,306.89 56.89,306.84 57.09,308.01 57.3,307.77 57.51,307.79 57.72,307.96 57.92,307.56 58.13,307.68 58.34,307.93 58.55,307.14 58.75,306.91 58.96,307.87 59.17,307.48 59.38,307.18 59.58,307.31 59.79,307.55 60,306.77 60.21,306.75 60.41,306.84 60.62,307.3 60.83,306.17 61.04,306.29 61.24,307.4 61.45,307.25 61.66,306.58 61.87,307.6 62.07,306.99 62.28,307.17 62.49,307.55 62.7,307.31 62.9,308 63.11,307.47 63.32,308.22 63.53,306.02 63.73,306.42 63.94,306.56 64.15,307.04 64.36,306.68 64.56,306.54 64.77,306.67 64.98,306.72 65.19,307.66 65.39,306.97 65.6,307.47 65.81,307.8 66.02,307.78 66.22,306.97 66.43,306.65 66.64,307.9 66.85,306.29 67.05,306.44 67.26,307.39 67.47,307.43 67.68,307.23 67.88,306.69 68.09,307.39 68.3,307.76 68.51,307.02 68.71,308.26 68.92,307.12 69.13,306.6 69.34,307.04 69.54,306.79 69.75,306.94 69.96,306.82 70.17,307.12 70.37,307.62 70.58,307.31 70.79,307.23 71,306.55 71.2,306.36 71.41,306.98 71.62,307.58 71.83,307.57 72.03,307.29 72.24,306.48 72.45,307.02 72.66,307.22 72.86,307.59 73.07,306.74 73.28,307.05 73.49,307.22 73.69,307.14 73.9,306.33 74.11,307.28 74.32,306.33 74.52,306.56 74.73,307.17 74.94,306.74 75.15,307.26 75.35,307.62 75.56,307.33 75.77,307.66 75.98,306.93 76.18,307.19 76.39,306.9 76.6,306.77 76.81,308.8 77.01,307.04 77.22,308.12 77.43,307.11 77.64,299.76 77.84,307.14 78.05,306.49 78.26,308.08 78.47,307.1 78.67,307.24 78.88,308.17 79.09,306.86 79.3,307.18 79.5,307.46 79.71,307.57 79.92,305.54 80.13,307.4 80.33,308.12 80.54,307.68 80.75,307.38 80.96,307.39 81.16,307.24 81.37,307.73 81.58,306.92 81.79,307.45 81.99,307.9 82.2,307.62 82.41,307.39 82.62,295.18 82.82,306.95 83.03,307.37 83.24,307.19 83.45,307.09 83.65,306.15 83.86,307.51 84.07,306.96 84.28,306.82 84.48,307.69 84.69,307.1 84.9,307.11 85.11,307.44 85.31,306.9 85.52,306.67 85.73,306.61 85.94,307.29 86.14,307.1 86.35,305.99 86.56,307.76 86.77,307.08 86.97,306.74 87.18,307.12 87.39,306.86 87.6,307.11 87.8,306.81 88.01,306.54 88.22,307.31 88.43,307.09 88.63,307.22 88.84,307.4 89.05,307.21 89.26,307.78 89.46,306.81 89.67,306.32 89.88,306.32 90.09,303.76 90.29,307.69 90.5,306.41 90.71,307.56 90.92,307.22 91.13,306.25 91.33,307.75 91.54,306.76 91.75,307.05 91.96,307.27 92.16,307.65 92.37,306.98 92.58,307.43 92.79,306.66 92.99,306.57 93.2,307.91 93.41,307.46 93.62,307.36 93.82,307.8 94.03,307.77 94.24,307.15 94.45,307.3 94.65,308.05 94.86,307.47 95.07,306.93 95.28,307.82 95.48,307.67 95.69,306.38 95.9,306.52 96.11,308.03 96.31,307.89 96.52,307 96.73,307.81 96.94,307.33 97.14,307.43 97.35,306.91 97.56,308.5 97.77,308.33 97.97,307.83 98.18,306.67 98.39,307.28 98.6,308.08 98.8,306.94 99.01,306.83 99.22,307.32 99.43,307.37 99.63,306.97 99.84,306.57 100.05,307.12 100.26,306.92 100.46,307.22 100.67,307.39 100.88,307.67 101.09,307.06 101.29,307.35 101.5,307.32 101.71,306.72 101.92,306.94 102.12,306.75 102.33,308.01 102.54,306.91 102.75,307.5 102.95,307.61 103.16,307.63 103.37,306.57 103.58,306.77 103.78,302.62 103.99,307.78 104.2,307.19 104.41,307.43 104.61,306.34 104.82,307.95 105.03,308.14 105.24,307.33 105.44,307.19 105.65,307.13 105.86,306.81 106.07,306.13 106.27,307.37 106.48,307.48 106.69,308.1 106.9,307.07 107.1,306.76 107.31,307.33 107.52,306.59 107.73,307.18 107.93,306.42 108.14,307.02 108.35,307.74 108.56,307.52 108.76,307.99 108.97,308.09 109.18,307.06 109.39,306.75 109.59,306.19 109.8,307.22 110.01,307.32 110.22,307.77 110.42,306.69 110.63,307 110.84,307.5 111.05,306.84 111.25,306.91 111.46,308.16 111.67,306.81 111.88,307.13 112.08,307.4 112.29,307.41 112.5,306.3 112.71,306.41 112.91,306.26 113.12,307.79 113.33,307.53 113.54,306.73 113.74,307.82 113.95,307.57 114.16,308.12 114.37,306.24 114.57,306.65 114.78,306.96 114.99,307.08 115.2,307.41 115.4,307.4 115.61,306.88 115.82,307.56 116.03,306.56 116.23,307.45 116.44,307.65 116.65,306.53 116.86,307.27 117.06,306.91 117.27,307.41 117.48,308.35 117.69,306.91 117.89,307.89 118.1,306.64 118.31,307.99 118.52,308.16 118.72,307.04 118.93,306.98 119.14,307.14 119.35,307.82 119.55,306.74 119.76,307.95 119.97,307.44 120.18,307.6 120.38,307.39 120.59,306.76 120.8,307.52 121.01,306.91 121.21,306.84 121.42,308.08 121.63,307.8 121.84,307.39 122.04,307.5 122.25,307.04 122.46,308.19 122.67,306.83 122.87,306.81 123.08,307.28 123.29,307.91 123.5,307.19 123.7,307.47 123.91,306.9 124.12,307.24 124.33,306.82 124.53,307.42 124.74,304.34 124.95,308.38 125.16,307.72 125.36,306.94 125.57,307.97 125.78,306.82 125.99,307.82 126.19,307.15 126.4,307.67 126.61,307.42 126.82,307.11 127.02,307.25 127.23,307.39 127.44,306.09 127.65,307.19 127.85,307.7 128.06,306.72 128.27,306.77 128.48,306.57 128.68,306.28 128.89,307.68 129.1,306.65 129.31,306.61 129.51,307.2 129.72,307.07 129.93,308.74 130.14,307.49 130.34,306.28 130.55,308.12 130.76,307.47 130.97,307.05 131.17,306.9 131.38,306.36 131.59,308.1 131.8,307.17 132.01,306.75 132.21,307.87 132.42,307.22 132.63,306.23 132.84,306.52 133.04,306.92 133.25,308.54 133.46,307.26 133.67,307 133.87,307.35 134.08,307.23 134.29,305.61 134.5,307.31 134.7,307.7 134.91,307.07 135.12,307.36 135.33,307.36 135.53,307.24 135.74,306.8 135.95,307.07 136.16,307.81 136.36,307.26 136.57,306.95 136.78,307.44 136.99,306.6 137.19,306.8 137.4,307.71 137.61,307.03 137.82,306.17 138.02,306.39 138.23,307.22 138.44,306.73 138.65,307.54 138.85,307.94 139.06,306.91 139.27,307.07 139.48,306.93 139.68,307.21 139.89,307.03 140.1,307.46 140.31,306.95 140.51,306.77 140.72,307.23 140.93,306.78 141.14,308.11 141.34,307.6 141.55,306.45 141.76,306.29 141.97,307.07 142.17,307.25 142.38,307.85 142.59,307.01 142.8,306.8 143,307.96 143.21,306.91 143.42,306.94 143.63,306.97 143.83,307.78 144.04,306.92 144.25,307.97 144.46,306.43 144.66,307.13 144.87,307.8 145.08,306.5 145.29,306.6 145.49,307.53 145.7,306.06 145.91,307.71 146.12,307.03 146.32,306.59 146.53,308.36 146.74,306.68 146.95,307.23 147.15,307.2 147.36,307.75 147.57,307.03 147.78,307.77 147.98,307.69 148.19,307.43 148.4,307.83 148.61,306.39 148.81,307.88 149.02,307.58 149.23,307.36 149.44,307.19 149.64,306.79 149.85,306.77 150.06,307.35 150.27,307.39 150.47,307.18 150.68,306.77 150.89,306.84 151.1,307.46 151.3,308.26 151.51,306.09 151.72,306.71 151.93,307.06 152.13,307.02 152.34,307.46 152.55,307.71 152.76,307.37 152.96,307.31 153.17,307.52 153.38,307.95 153.59,307.36 153.79,306.9 154,307.45 154.21,307.18 154.42,308.26 154.62,307.3 154.83,307.26 155.04,307.83 155.25,308.09 155.45,306.98 155.66,307.61 155.87,303.19 156.08,307.41 156.28,306.88 156.49,307.37 156.7,307.97 156.91,307.24 157.11,307.36 157.32,306.86 157.53,307.43 157.74,307.4 157.94,306.75 158.15,306.6 158.36,306.81 158.57,306.66 158.77,306.96 158.98,303.19 159.19,306.74 159.4,306.99 159.6,307.16 159.81,307.12 160.02,305.96 160.23,307.19 160.43,307.32 160.64,307.38 160.85,307.21 161.06,307.07 161.26,307.78 161.47,308.22 161.68,307.04 161.89,308.02 162.09,307.06 162.3,307.12 162.51,306.6 162.72,306.34 162.92,307.01 163.13,307.48 163.34,307.8 163.55,307.6 163.75,307.18 163.96,308.26 164.17,307.16 164.38,307.2 164.58,306.86 164.79,307.37 165,307.14 165.21,307.57 165.41,307.43 165.62,308.11 165.83,307.13 166.04,306.4 166.24,307.11 166.45,307.01 166.66,307.7 166.87,306.46 167.07,307.59 167.28,306.78 167.49,307.14 167.7,307.69 167.9,306.67 168.11,307.19 168.32,307.1 168.53,306.96 168.73,307.21 168.94,307.39 169.15,306.96 169.36,307.4 169.56,307.16 169.77,307.54 169.98,307.96 170.19,307.54 170.39,307.45 170.6,307.19 170.81,306.59 171.02,308.07 171.22,307.13 171.43,308.33 171.64,307.73 171.85,307.46 172.05,308.36 172.26,308.15 172.47,307.12 172.68,307.16 172.88,307.25 173.09,307.61 173.3,306.09" fill="none" stroke="#000000" stroke-width="0.6" stroke-linejoin="round"/>
<path d="M49 288.32h3.5M49 265.44h3.5M49 242.56h3.5M49 219.68h3.5M61.43 311.2v-3.5M73.86 311.2v-3.5M86.29 311.2v-3.5M98.72 311.2v-3.5M111.15 311.2v-3.5M123.58 311.2v-3.5M136.01 311.2v-3.5M148.44 311.2v-3.5M160.87 311.2v-3.5" stroke="#333" stroke-width="1" fill="none"/>
<rect x="49.35" y="196.8" width="123.95" height="114.4" fill="none" stroke="#595959" stroke-width="1.3"/>
<text x="38.6" y="315.3" class="t" text-anchor="end">0</text>
<text x="38.6" y="292.42" class="t" text-anchor="end">20</text>
<text x="38.6" y="269.54" class="t" text-anchor="end">40</text>
<text x="38.6" y="246.66" class="t" text-anchor="end">60</text>
<text x="38.6" y="223.78" class="t" text-anchor="end">80</text>
<text x="38.6" y="200.9" class="t" text-anchor="end">100</text>
<text x="49" y="330.6" class="t" text-anchor="middle">-5</text>
<text x="61.43" y="330.6" class="t" text-anchor="middle">-4</text>
<text x="73.86" y="330.6" class="t" text-anchor="middle">-3</text>
<text x="86.29" y="330.6" class="t" text-anchor="middle">-2</text>
<text x="98.72" y="330.6" class="t" text-anchor="middle">-1</text>
<text x="111.15" y="330.6" class="t" text-anchor="middle">0</text>
<text x="123.58" y="330.6" class="t" text-anchor="middle">1</text>
<text x="136.01" y="330.6" class="t" text-anchor="middle">2</text>
<text x="148.44" y="330.6" class="t" text-anchor="middle">3</text>
<text x="160.87" y="330.6" class="t" text-anchor="middle">4</text>
<text x="173.3" y="330.6" class="t" text-anchor="middle">5</text>
<text x="110.95" y="344.5" class="tx" text-anchor="middle">&#916;<tspan font-style="italic">&#955;</tspan> (nm)</text>
<text transform="translate(12.9 250.1) rotate(-90)" class="tt" text-anchor="middle">Intensity (arb. unit)</text>
<text x="1.4" y="188.7" class="s">(d)</text>
<polyline points="235.15,303.92 235.41,304.65 235.67,304.5 235.93,303.69 236.19,307.76 236.45,310.19 236.71,304.18 236.97,307.64 237.23,306.24 237.49,307.82 237.74,301.87 238,306.9 238.26,304.22 238.52,305.86 238.78,306.32 239.04,308.15 239.3,302.93 239.56,302.63 239.82,302.09 240.08,300.84 240.34,302.88 240.6,302.62 240.86,303.63 241.12,302.48 241.38,304.55 241.64,305.52 241.9,297.93 242.16,308.67 242.42,301.97 242.68,301.51 242.93,302.96 243.19,304.78 243.45,303.7 243.71,305.72 243.97,305.57 244.23,303.74 244.49,304.53 244.75,305.08 245.01,301.13 245.27,305.95 245.53,303.35 245.79,304.91 246.05,302.21 246.31,304.24 246.57,303.58 246.83,306.46 247.09,306.14 247.35,305.55 247.61,302.51 247.87,300.36 248.12,300.08 248.38,303.96 248.64,302.39 248.9,306.25 249.16,309.1 249.42,304.88 249.68,304.67 249.94,307.14 250.2,307.91 250.46,302.36 250.72,305.31 250.98,308.23 251.24,297.01 251.5,302.6 251.76,303.61 252.02,300.96 252.28,303.99 252.54,299.54 252.8,306.53 253.06,307.33 253.31,305.07 253.57,306.27 253.83,297.68 254.09,308.09 254.35,303.73 254.61,300.37 254.87,301.43 255.13,298.27 255.39,299.57 255.65,295.96 255.91,300.88 256.17,301.03 256.43,300.72 256.69,302.2 256.95,303.08 257.21,304.33 257.47,304.69 257.73,302.05 257.99,303.61 258.25,305.4 258.5,301.41 258.76,305.22 259.02,296.81 259.28,297.8 259.54,300.04 259.8,303.36 260.06,303.46 260.32,297.91 260.58,298.34 260.84,298.51 261.1,300.62 261.36,297.8 261.62,302.85 261.88,302.05 262.14,304.84 262.4,304.72 262.66,299.73 262.92,299.65 263.18,301.12 263.44,297.13 263.69,300.95 263.95,298.94 264.21,306.55 264.47,299.24 264.73,297.34 264.99,301.21 265.25,303.95 265.51,298.2 265.77,302.52 266.03,301.68 266.29,299.81 266.55,300.25 266.81,297.9 267.07,301.02 267.33,300.25 267.59,296.87 267.85,300.77 268.11,303.21 268.37,298.92 268.63,299.28 268.88,301.76 269.14,296.37 269.4,304.47 269.66,296.73 269.92,297.83 270.18,294.31 270.44,297.86 270.7,297.92 270.96,297.47 271.22,295.6 271.48,295.61 271.74,292.19 272,297.66 272.26,294.34 272.52,294.42 272.78,295.61 273.04,295.32 273.3,300.88 273.56,292.99 273.82,293.12 274.07,296.5 274.33,300.68 274.59,288.94 274.85,298.46 275.11,292.7 275.37,295.13 275.63,299.46 275.89,291.87 276.15,295.32 276.41,288.96 276.67,285.05 276.93,289.72 277.19,286.19 277.45,286.15 277.71,283.57 277.97,288.27 278.23,286.29 278.49,288.93 278.75,265.44 279.01,286.63 279.26,287.01 279.52,288.43 279.78,267.73 280.04,280.04 280.3,284.07 280.56,285.15 280.82,280.56 281.08,277.46 281.34,277.55 281.6,269.5 281.86,282.28 282.12,272.33 282.38,271.61 282.64,262.09 282.9,276.55 283.16,279.62 283.42,262.78 283.68,269.12 283.94,278.99 284.2,272.96 284.45,257.4 284.71,257.59 284.97,260.29 285.23,254 285.49,248.23 285.75,271.03 286.01,257.39 286.27,267.92 286.53,251.5 286.79,256.48 287.05,248.96 287.31,255.43 287.57,251.53 287.83,250.47 288.09,259.61 288.35,241.79 288.61,241.23 288.87,252.16 289.13,231.12 289.39,239.2 289.64,230.55 289.9,245.43 290.16,248.92 290.42,250.67 290.68,258.24 290.94,255.94 291.2,250.88 291.46,255.93 291.72,249.4 291.98,240.67 292.24,239.81 292.5,244.01 292.76,240.2 293.02,232.26 293.28,241.41 293.54,244.24 293.8,266.17 294.06,250.09 294.32,267.52 294.58,265.54 294.83,275.76 295.09,270.77 295.35,278.07 295.61,282.64 295.87,281.41 296.13,288.64 296.39,290.8 296.65,294 296.91,293.69 297.17,294.96 297.43,297.54 297.69,299.05 297.95,307.13 298.21,308.06 298.47,310.92 298.73,297.85 298.99,293.35 299.25,283.34 299.51,276.24 299.77,273.14 300.02,269.48 300.28,268.87 300.54,253.84 300.8,250.03 301.06,251.63 301.32,255.02 301.58,241.42 301.84,241.24 302.1,250.83 302.36,255.5 302.62,244.16 302.88,259.83 303.14,265.93 303.4,254.88 303.66,252.72 303.92,248.79 304.18,254.66 304.44,247.28 304.7,244.85 304.96,257.06 305.21,255.21 305.47,251.01 305.73,244.67 305.99,248.45 306.25,252.69 306.51,280.5 306.77,264.34 307.03,258.63 307.29,259.92 307.55,271.31 307.81,253.3 308.07,264.63 308.33,267.22 308.59,262.74 308.85,269.44 309.11,272.39 309.37,264.56 309.63,270.79 309.89,276.33 310.15,272.5 310.4,270.97 310.66,278.72 310.92,268.99 311.18,276.93 311.44,264.37 311.7,268.04 311.96,281.2 312.22,273.05 312.48,270.56 312.74,278.26 313,281.3 313.26,276.43 313.52,268.29 313.78,287.72 314.04,277.52 314.3,281.76 314.56,282.99 314.82,281.26 315.08,282.47 315.34,283.45 315.59,283.72 315.85,287.68 316.11,284.89 316.37,287.77 316.63,285.13 316.89,286.3 317.15,283.72 317.41,282.85 317.67,285.79 317.93,289.85 318.19,282.92 318.45,290.21 318.71,286.59 318.97,295.57 319.23,285.96 319.49,289.95 319.75,290.55 320.01,293.25 320.27,292.35 320.53,298.11 320.78,298.09 321.04,291.42 321.3,296.65 321.56,287.67 321.82,296.75 322.08,295.35 322.34,297.15 322.6,291.05 322.86,298.69 323.12,294.29 323.38,292.49 323.64,294.48 323.9,292.52 324.16,299.31 324.42,296.87 324.68,301.01 324.94,299.18 325.2,296.16 325.46,297.94 325.72,295.95 325.97,295.78 326.23,297.4 326.49,299.31 326.75,300.45 327.01,298.67 327.27,296.17 327.53,301.39 327.79,298.77 328.05,299.97 328.31,298.69 328.57,299.13 328.83,301.51 329.09,304.16 329.35,301.14 329.61,296.1 329.87,299.88 330.13,298.7 330.39,301.38 330.65,304.95 330.91,299.63 331.16,298.4 331.42,305.18 331.68,302.24 331.94,300.26 332.2,301.61 332.46,301.89 332.72,301.8 332.98,306.51 333.24,302.73 333.5,305.4 333.76,304.54 334.02,302.54 334.28,302.98 334.54,302.1 334.8,298.37 335.06,302.21 335.32,307.15 335.58,304.97 335.84,301.64 336.1,303.1 336.35,303.44 336.61,303.34 336.87,300.94 337.13,303.25 337.39,301.25 337.65,303.01 337.91,305.04 338.17,302.7 338.43,302.25 338.69,309.88 338.95,305.11 339.21,307.38 339.47,299.26 339.73,300.1 339.99,299.63 340.25,301 340.51,304.61 340.77,301.13 341.03,304.39 341.29,301.3 341.54,306.51 341.8,303.8 342.06,302.98 342.32,300.29 342.58,303.43 342.84,298.22 343.1,299 343.36,306.89 343.62,305.18 343.88,307.01 344.14,303.87 344.4,306.12 344.66,304.12 344.92,302.27 345.18,300.62 345.44,303.81 345.7,305.27 345.96,304.98 346.22,304.85 346.48,303.07 346.73,304.56 346.99,302.71 347.25,307.64 347.51,302.72 347.77,300.36 348.03,304.43 348.29,307.97 348.55,301.11 348.81,305.15 349.07,311.2 349.33,306.76 349.59,304.22 349.85,304.09 350.11,303.94 350.37,304.16 350.63,304.82 350.89,310.52 351.15,308.88 351.41,304.11 351.67,303.23 351.92,308.35 352.18,306.49 352.44,304.01 352.7,311.15 352.96,309.13 353.22,307.17 353.48,305.72 353.74,307.98 354,311.2 354.26,307.02 354.52,309.61 354.78,304.41 355.04,306.72 355.3,306.16 355.56,304.44 355.82,308.49 356.08,304.44 356.34,304.12 356.6,305.97 356.86,303.9 357.11,308.58 357.37,305.06 357.63,306.99 357.89,309.95 358.15,307.43 358.41,308.8 358.67,309.35 358.93,307.71 359.19,305.45 359.45,308.55" fill="none" stroke="#ff0000" stroke-width="0.5" stroke-linejoin="round"/>
<path d="M235.15 288.32h3.5M235.15 265.44h3.5M235.15 242.56h3.5M235.15 219.68h3.5M247.58 311.2v-3.5M260.01 311.2v-3.5M272.44 311.2v-3.5M284.87 311.2v-3.5M297.3 311.2v-3.5M309.73 311.2v-3.5M322.16 311.2v-3.5M334.59 311.2v-3.5M347.02 311.2v-3.5" stroke="#333" stroke-width="1" fill="none"/>
<rect x="235.5" y="196.8" width="123.95" height="114.4" fill="none" stroke="#595959" stroke-width="1.3"/>
<text x="224.25" y="315.3" class="t" text-anchor="end">0</text>
<text x="224.25" y="292.42" class="t" text-anchor="end">20</text>
<text x="224.25" y="269.54" class="t" text-anchor="end">40</text>
<text x="224.25" y="246.66" class="t" text-anchor="end">60</text>
<text x="224.25" y="223.78" class="t" text-anchor="end">80</text>
<text x="224.25" y="200.9" class="t" text-anchor="end">100</text>
<text x="235.15" y="330.6" class="t" text-anchor="middle">-5</text>
<text x="247.58" y="330.6" class="t" text-anchor="middle">-4</text>
<text x="260.01" y="330.6" class="t" text-anchor="middle">-3</text>
<text x="272.44" y="330.6" class="t" text-anchor="middle">-2</text>
<text x="284.87" y="330.6" class="t" text-anchor="middle">-1</text>
<text x="297.3" y="330.6" class="t" text-anchor="middle">0</text>
<text x="309.73" y="330.6" class="t" text-anchor="middle">1</text>
<text x="322.16" y="330.6" class="t" text-anchor="middle">2</text>
<text x="334.59" y="330.6" class="t" text-anchor="middle">3</text>
<text x="347.02" y="330.6" class="t" text-anchor="middle">4</text>
<text x="359.45" y="330.6" class="t" text-anchor="middle">5</text>
<text x="297.1" y="344.5" class="tx" text-anchor="middle">&#916;<tspan font-style="italic">&#955;</tspan> (nm)</text>
<text transform="translate(199.05 250.1) rotate(-90)" class="tt" text-anchor="middle">Intensity (arb. unit)</text>
<text x="187.55" y="188.7" class="s">(e)</text>
<polyline points="422.4,308.18 422.66,307.01 422.92,304.98 423.18,309.2 423.44,307.88 423.7,308.56 423.96,308.07 424.22,311.2 424.48,308.74 424.74,309.38 424.99,310.55 425.25,308.36 425.51,311.2 425.77,304.41 426.03,307.8 426.29,303.81 426.55,310.66 426.81,310.79 427.07,307.98 427.33,311.2 427.59,307.73 427.85,309.94 428.11,308.71 428.37,306.96 428.63,308.27 428.89,303.55 429.15,306.65 429.41,311.03 429.67,304.97 429.93,311.2 430.18,308.15 430.44,311.2 430.7,310.04 430.96,305.16 431.22,307.68 431.48,309.32 431.74,308.51 432,308.14 432.26,304.9 432.52,310.42 432.78,310.03 433.04,306.55 433.3,311.2 433.56,308.53 433.82,306 434.08,308.25 434.34,308.82 434.6,309.24 434.86,310.34 435.12,309.29 435.37,307.5 435.63,304.96 435.89,305.14 436.15,308.83 436.41,309.12 436.67,306.62 436.93,311.2 437.19,308.22 437.45,308.89 437.71,309.66 437.97,309.84 438.23,306.83 438.49,310.53 438.75,309.52 439.01,308.98 439.27,307.18 439.53,310 439.79,302.85 440.05,308.76 440.31,307.38 440.56,307.69 440.82,307.63 441.08,309.07 441.34,305.51 441.6,305.25 441.86,307.41 442.12,304.22 442.38,308.86 442.64,305.62 442.9,306.55 443.16,307.66 443.42,303.89 443.68,309.9 443.94,304.26 444.2,308.27 444.46,304.97 444.72,302.69 444.98,304.15 445.24,307.62 445.5,305.93 445.75,306.38 446.01,308.24 446.27,308.64 446.53,304.01 446.79,304.46 447.05,308.57 447.31,305.08 447.57,302.81 447.83,306.45 448.09,305.22 448.35,302.47 448.61,308.33 448.87,302.8 449.13,298.57 449.39,308.26 449.65,304.62 449.91,303.65 450.17,301.97 450.43,306.81 450.69,304.44 450.94,306.89 451.2,300.76 451.46,302.31 451.72,303.17 451.98,305.79 452.24,304.81 452.5,301.63 452.76,301.77 453.02,304.73 453.28,301.48 453.54,304.43 453.8,308.94 454.06,300.23 454.32,298.17 454.58,305.33 454.84,303.6 455.1,301.38 455.36,299.2 455.62,301.17 455.88,297.8 456.13,302.68 456.39,299.21 456.65,299.27 456.91,302.4 457.17,295.71 457.43,295.13 457.69,295.06 457.95,302.2 458.21,294.6 458.47,300.79 458.73,297.81 458.99,305.29 459.25,300.52 459.51,294 459.77,297.93 460.03,297.93 460.29,301.94 460.55,293.87 460.81,293.51 461.07,291.7 461.32,296.3 461.58,293.72 461.84,291.63 462.1,294.68 462.36,295.22 462.62,291.57 462.88,292.56 463.14,292.74 463.4,288.55 463.66,288.04 463.92,288.03 464.18,289.31 464.44,293.38 464.7,288.82 464.96,287.7 465.22,291.09 465.48,285.71 465.74,278.53 466,289.49 466.26,280.52 466.51,282.89 466.77,288.04 467.03,283.07 467.29,285.75 467.55,284.02 467.81,275.48 468.07,285.99 468.33,282.93 468.59,274.82 468.85,277.96 469.11,274.88 469.37,274.51 469.63,272.86 469.89,279.16 470.15,272.92 470.41,278.53 470.67,265.32 470.93,267.19 471.19,276.34 471.45,271.36 471.7,272.01 471.96,272.73 472.22,269.54 472.48,277.6 472.74,276.71 473,264.43 473.26,266.94 473.52,272.64 473.78,273.73 474.04,253.03 474.3,259.32 474.56,262.91 474.82,267.67 475.08,264.66 475.34,256.63 475.6,263.88 475.86,238.06 476.12,251.36 476.38,250.03 476.64,233.98 476.89,254.23 477.15,254.6 477.41,251.87 477.67,251.85 477.93,256.46 478.19,251.16 478.45,254.05 478.71,238.45 478.97,251.56 479.23,253.84 479.49,248.5 479.75,236.77 480.01,235.7 480.27,250.33 480.53,253.24 480.79,253.55 481.05,255.32 481.31,265.47 481.57,263.79 481.83,261.32 482.08,265.77 482.34,269.61 482.6,275.62 482.86,283.05 483.12,287.73 483.38,291.08 483.64,294.76 483.9,291.53 484.16,300.03 484.42,300.07 484.68,304.8 484.94,310.93 485.2,310.51 485.46,300.76 485.72,293.86 485.98,288.74 486.24,284.82 486.5,272.34 486.76,278.04 487.02,270.72 487.27,276.01 487.53,267.58 487.79,266.26 488.05,262.3 488.31,259.56 488.57,254.31 488.83,246.06 489.09,251.14 489.35,243.7 489.61,249.56 489.87,243.13 490.13,243.13 490.39,249.41 490.65,249.83 490.91,258.9 491.17,254.92 491.43,247.14 491.69,254.38 491.95,260.98 492.21,261.42 492.46,256.98 492.72,261.75 492.98,273.85 493.24,261.69 493.5,252.71 493.76,263.18 494.02,258.7 494.28,272.83 494.54,258.47 494.8,269.54 495.06,274.67 495.32,269.91 495.58,255.27 495.84,273.96 496.1,279.05 496.36,271.66 496.62,272 496.88,267.36 497.14,278.96 497.4,283.61 497.65,274.59 497.91,272.89 498.17,279.2 498.43,271.94 498.69,286.59 498.95,280.72 499.21,280.65 499.47,279.02 499.73,279.68 499.99,286.41 500.25,287.3 500.51,281.47 500.77,282.97 501.03,276.7 501.29,289.5 501.55,281.03 501.81,294.06 502.07,288.51 502.33,289.69 502.59,289.02 502.84,293.39 503.1,285.1 503.36,291.39 503.62,292.08 503.88,291.74 504.14,289.34 504.4,293.78 504.66,287.67 504.92,295.09 505.18,293.23 505.44,295.4 505.7,292.71 505.96,294.63 506.22,298.99 506.48,292.54 506.74,295.65 507,296.3 507.26,295.98 507.52,304.02 507.78,296.49 508.03,298.27 508.29,298.55 508.55,298.06 508.81,297.72 509.07,297.77 509.33,300.64 509.59,296.19 509.85,296.89 510.11,302.07 510.37,301.48 510.63,303.2 510.89,303.13 511.15,301.74 511.41,301.71 511.67,299.83 511.93,298.69 512.19,301.67 512.45,303.68 512.71,302.92 512.97,298.05 513.22,308.3 513.48,303.49 513.74,300.89 514,302.22 514.26,298.66 514.52,300.43 514.78,300.65 515.04,303.22 515.3,303.17 515.56,303.7 515.82,301.52 516.08,303.34 516.34,303.68 516.6,305.15 516.86,299.53 517.12,302.24 517.38,305.71 517.64,308.18 517.9,301.55 518.16,301.56 518.41,304.42 518.67,306.12 518.93,304.33 519.19,307.36 519.45,303.67 519.71,307.49 519.97,307.89 520.23,305.59 520.49,308.28 520.75,305.63 521.01,303.27 521.27,307.47 521.53,304.91 521.79,307.83 522.05,306 522.31,306.71 522.57,307.22 522.83,308.37 523.09,310.96 523.35,308.35 523.6,307.91 523.86,303.41 524.12,304.77 524.38,309.19 524.64,304.8 524.9,306.07 525.16,307.11 525.42,306.42 525.68,305.04 525.94,308.45 526.2,306.92 526.46,306.11 526.72,309.62 526.98,305.83 527.24,307.78 527.5,307.81 527.76,308.7 528.02,306.84 528.28,305.76 528.54,306.51 528.79,308.92 529.05,305.87 529.31,306.45 529.57,306.6 529.83,304.66 530.09,309.1 530.35,308.45 530.61,308.33 530.87,309.74 531.13,304.22 531.39,305.56 531.65,311.18 531.91,305.93 532.17,308.75 532.43,304.14 532.69,306.46 532.95,307.21 533.21,306.44 533.47,306.42 533.73,307.63 533.98,307.6 534.24,307.29 534.5,306.27 534.76,310.03 535.02,308.27 535.28,307.47 535.54,308.43 535.8,306.61 536.06,310.3 536.32,308.06 536.58,309.5 536.84,306.12 537.1,308.32 537.36,308.25 537.62,307.02 537.88,310.92 538.14,306.36 538.4,308.73 538.66,309.17 538.92,308.06 539.17,305.77 539.43,305.72 539.69,303.35 539.95,307.89 540.21,309.07 540.47,309.43 540.73,306.18 540.99,305.07 541.25,306.74 541.51,308.82 541.77,307.21 542.03,308.36 542.29,308.24 542.55,309.34 542.81,311.2 543.07,309.33 543.33,305.9 543.59,307.32 543.85,311.2 544.11,308.05 544.36,311.2 544.62,303.95 544.88,307.87 545.14,310.53 545.4,306.62 545.66,309.56 545.92,307.73 546.18,307.82 546.44,310.92 546.7,306.52" fill="none" stroke="#1010c8" stroke-width="0.5" stroke-linejoin="round"/>
<path d="M422.4 288.32h3.5M422.4 265.44h3.5M422.4 242.56h3.5M422.4 219.68h3.5M434.83 311.2v-3.5M447.26 311.2v-3.5M459.69 311.2v-3.5M472.12 311.2v-3.5M484.55 311.2v-3.5M496.98 311.2v-3.5M509.41 311.2v-3.5M521.84 311.2v-3.5M534.27 311.2v-3.5" stroke="#333" stroke-width="1" fill="none"/>
<rect x="422.4" y="196.8" width="124.3" height="114.4" fill="none" stroke="#595959" stroke-width="1.3"/>
<text x="411.5" y="315.3" class="t" text-anchor="end">0</text>
<text x="411.5" y="292.42" class="t" text-anchor="end">20</text>
<text x="411.5" y="269.54" class="t" text-anchor="end">40</text>
<text x="411.5" y="246.66" class="t" text-anchor="end">60</text>
<text x="411.5" y="223.78" class="t" text-anchor="end">80</text>
<text x="411.5" y="200.9" class="t" text-anchor="end">100</text>
<text x="422.4" y="330.6" class="t" text-anchor="middle">-5</text>
<text x="434.83" y="330.6" class="t" text-anchor="middle">-4</text>
<text x="447.26" y="330.6" class="t" text-anchor="middle">-3</text>
<text x="459.69" y="330.6" class="t" text-anchor="middle">-2</text>
<text x="472.12" y="330.6" class="t" text-anchor="middle">-1</text>
<text x="484.55" y="330.6" class="t" text-anchor="middle">0</text>
<text x="496.98" y="330.6" class="t" text-anchor="middle">1</text>
<text x="509.41" y="330.6" class="t" text-anchor="middle">2</text>
<text x="521.84" y="330.6" class="t" text-anchor="middle">3</text>
<text x="534.27" y="330.6" class="t" text-anchor="middle">4</text>
<text x="546.7" y="330.6" class="t" text-anchor="middle">5</text>
<text x="484.35" y="344.5" class="tx" text-anchor="middle">&#916;<tspan font-style="italic">&#955;</tspan> (nm)</text>
<text transform="translate(386.3 250.1) rotate(-90)" class="tt" text-anchor="middle">Intensity (arb. unit)</text>
<text x="375.9" y="188.7" class="s">(f)</text>
</svg>
</body></html>
